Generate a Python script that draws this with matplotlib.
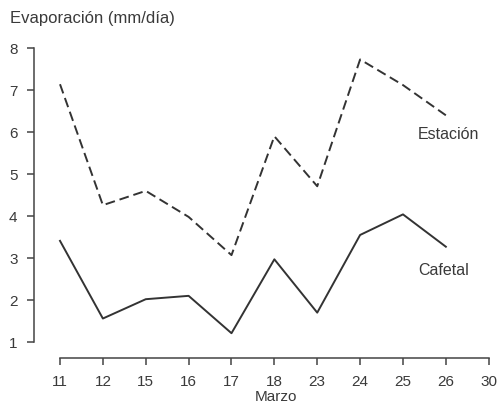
import matplotlib

matplotlib.use("Agg")

import matplotlib.pyplot as plt
import matplotlib.transforms as mtransforms

plt.rcParams["font.family"] = ["Liberation Sans", "DejaVu Sans"]

# ---------------------------------------------------------------------
# Datos
# ---------------------------------------------------------------------
dias = ["11", "12", "15", "16", "17", "18", "23", "24", "25", "26", "30"]
estacion = [7.14, 4.26, 4.60, 3.98, 3.07, 5.90, 4.71, 7.73, 7.12, 6.40]
cafetal = [3.41, 1.56, 2.02, 2.10, 1.21, 2.97, 1.70, 3.55, 4.04, 3.27]
y_ticks = [1, 2, 3, 4, 5, 6, 7, 8]

INK = "#333333"
TXT = "#3a3a3a"

fig = plt.figure(figsize=(4.99, 4.04), dpi=100)
ax = fig.add_axes([0.0687, 0.1139, 0.915, 0.767])

x_idx = list(range(len(estacion)))
ax.plot(x_idx, estacion, color=INK, linewidth=1.4, linestyle=(0, (5, 2.5)))
ax.plot(x_idx, cafetal, color=INK, linewidth=1.4)

ax.set_xlim(-0.6, 10.05)
ax.set_ylim(0.62, 8)
ax.set_xticks(range(len(dias)))
ax.set_xticklabels(dias)
ax.set_yticks(y_ticks)

for side in ("top", "right"):
    ax.spines[side].set_visible(False)
ax.spines["left"].set_bounds(1, 8)
ax.spines["bottom"].set_bounds(0, len(dias) - 1)
for side in ("left", "bottom"):
    ax.spines[side].set_color("#444444")
    ax.spines[side].set_linewidth(1.1)

ax.tick_params(axis="both", direction="out", length=5, width=1.1,
               color="#444444", labelcolor=TXT, labelsize=11)
ax.tick_params(axis="x", pad=7)
ax.tick_params(axis="y", pad=7)

# Etiquetas de las series
ax.text(8.35, 5.95, "Estación", fontsize=11.5, color=TXT, va="center", ha="left")
ax.text(8.35, 2.71, "Cafetal", fontsize=11.5, color=TXT, va="center", ha="left")

# Titulo del eje y y etiqueta del eje x
fig.text(10 / 499, 1 - 19 / 404, "Evaporación (mm/día)", fontsize=12,
         color=TXT, ha="left", va="center")
trans = mtransforms.blended_transform_factory(ax.transData, fig.transFigure)
ax.text(5.03, 1 - 397 / 404, "Marzo", transform=trans, fontsize=11,
        color=TXT, ha="center", va="center")

fig.savefig("out.png", dpi=100)
